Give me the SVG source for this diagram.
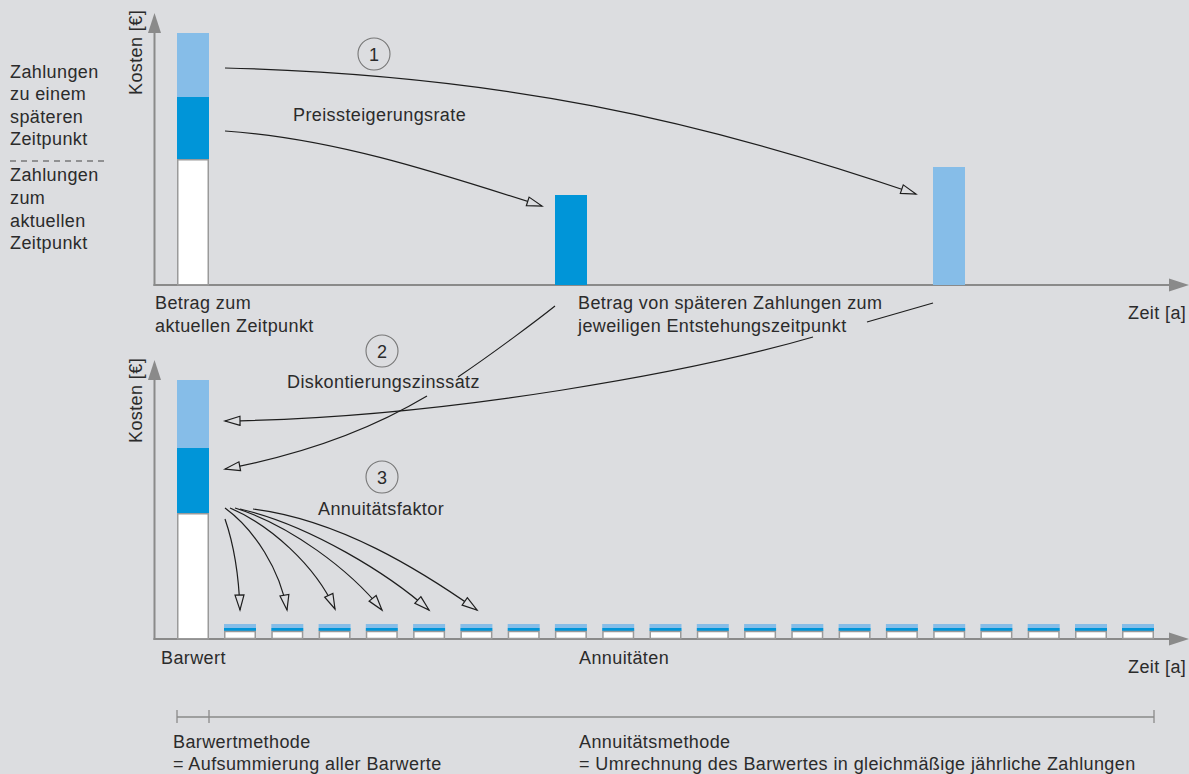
<svg xmlns="http://www.w3.org/2000/svg" width="1189" height="774" viewBox="0 0 1189 774">
<style>
  text { font-family: "Liberation Sans", Arial, sans-serif; font-size: 18px; fill: #2b2b2b; letter-spacing: 0.4px; }
  .axis { stroke: #8a8a8a; stroke-width: 2; fill: none; }
  .conn { stroke: #1e1e1e; stroke-width: 1.2; fill: none; }
  .arr { marker-end: url(#open); }
  .lb { fill: #86bde8; }
  .db { fill: #0095d8; }
  .wh { fill: #ffffff; stroke: #9a9a9a; stroke-width: 1.5; }
  .circ { fill: none; stroke: #777777; stroke-width: 1.1; }
  .num { text-anchor: middle; letter-spacing: 0; }
  .brk { stroke: #8a8a8a; stroke-width: 1.3; fill: none; }
</style>
<defs>
  <marker id="open" markerUnits="userSpaceOnUse" markerWidth="18" markerHeight="12" refX="15" refY="5" orient="auto" overflow="visible">
    <path d="M0,0.5 L15,5 L0,9.5 Z" fill="#dcdde0" stroke="#1e1e1e" stroke-width="1.2" stroke-linejoin="miter"/>
  </marker>
  <marker id="axh" markerUnits="userSpaceOnUse" markerWidth="22" markerHeight="14" refX="0" refY="6.5" orient="auto" overflow="visible">
    <path d="M0,0 L20,6.5 L0,13 Z" fill="#8a8a8a"/>
  </marker>
  <g id="ann">
    <rect x="0" y="0" width="32" height="4" class="lb"/>
    <rect x="0" y="4" width="32" height="3" class="db"/>
    <rect x="0.75" y="7.5" width="30.5" height="7" class="wh" stroke-width="1.3"/>
  </g>
</defs>
<rect x="0" y="0" width="1189" height="774" fill="#dcdde0"/>

<!-- left legend -->
<g id="legend">
  <text x="10" y="78">Zahlungen</text>
  <text x="10" y="100">zu einem</text>
  <text x="10" y="123">späteren</text>
  <text x="10" y="145">Zeitpunkt</text>
  <line x1="10" y1="161" x2="108" y2="161" stroke="#444" stroke-width="1" stroke-dasharray="6,5"/>
  <text x="10" y="181">Zahlungen</text>
  <text x="10" y="204">zum</text>
  <text x="10" y="227">aktuellen</text>
  <text x="10" y="249">Zeitpunkt</text>
</g>

<!-- top chart -->
<g id="top-axes">
  <path class="axis" d="M154.5,286 L154.5,33" marker-end="url(#axh)"/>
  <path class="axis" d="M153.5,285 L1169,285" marker-end="url(#axh)"/>
  <text transform="translate(142,95) rotate(-90)">Kosten [€]</text>
  <text x="1128" y="319">Zeit [a]</text>
</g>
<g id="bar-current">
  <rect x="177" y="33" width="32" height="64" class="lb"/>
  <rect x="177" y="97" width="32" height="62" class="db"/>
  <rect x="177.75" y="159.75" width="30.5" height="125" class="wh"/>
  <text x="155" y="309">Betrag zum</text>
  <text x="155" y="332">aktuellen Zeitpunkt</text>
</g>
<g id="bar-later-dark">
  <rect x="555" y="195" width="32" height="90" class="db"/>
</g>
<g id="bar-later-light">
  <rect x="933" y="167" width="32" height="118" class="lb"/>
</g>
<g id="label-later">
  <text x="578" y="309">Betrag von späteren Zahlungen zum</text>
  <text x="578" y="332">jeweiligen Entstehungszeitpunkt</text>
</g>
<g id="step1">
  <circle cx="374" cy="54" r="16" class="circ"/>
  <text x="374" y="60.5" class="num">1</text>
  <text x="293" y="121">Preissteigerungsrate</text>
</g>

<!-- bottom chart -->
<g id="bottom-axes">
  <path class="axis" d="M154.5,640 L154.5,380" marker-end="url(#axh)"/>
  <path class="axis" d="M153.5,639 L1169,639" marker-end="url(#axh)"/>
  <text transform="translate(142,443) rotate(-90)">Kosten [€]</text>
  <text x="1128" y="673">Zeit [a]</text>
</g>
<g id="bar-barwert">
  <rect x="177" y="380" width="32" height="68" class="lb"/>
  <rect x="177" y="448" width="32" height="65" class="db"/>
  <rect x="177.75" y="513.75" width="30.5" height="125" class="wh"/>
  <text x="161" y="664">Barwert</text>
</g>
<g id="step2">
  <circle cx="382" cy="351" r="16" class="circ"/>
  <text x="382" y="357.5" class="num">2</text>
  <text x="287" y="388">Diskontierungszinssatz</text>
</g>
<g id="step3">
  <circle cx="382" cy="477" r="16" class="circ"/>
  <text x="382" y="483.5" class="num">3</text>
  <text x="318" y="515">Annuitätsfaktor</text>
</g>
<g id="annuities">
  <use href="#ann" x="224" y="624"/>
  <use href="#ann" x="271.3" y="624"/>
  <use href="#ann" x="318.6" y="624"/>
  <use href="#ann" x="365.8" y="624"/>
  <use href="#ann" x="413.1" y="624"/>
  <use href="#ann" x="460.4" y="624"/>
  <use href="#ann" x="507.7" y="624"/>
  <use href="#ann" x="554.9" y="624"/>
  <use href="#ann" x="602.2" y="624"/>
  <use href="#ann" x="649.5" y="624"/>
  <use href="#ann" x="696.8" y="624"/>
  <use href="#ann" x="744.1" y="624"/>
  <use href="#ann" x="791.3" y="624"/>
  <use href="#ann" x="838.6" y="624"/>
  <use href="#ann" x="885.9" y="624"/>
  <use href="#ann" x="933.2" y="624"/>
  <use href="#ann" x="980.4" y="624"/>
  <use href="#ann" x="1027.7" y="624"/>
  <use href="#ann" x="1075" y="624"/>
  <use href="#ann" x="1122" y="624"/>
  <text x="579" y="664">Annuitäten</text>
</g>

<!-- method brackets -->
<g id="methods">
  <line class="brk" x1="177" y1="717" x2="1154" y2="717"/>
  <line class="brk" x1="177" y1="710" x2="177" y2="723"/>
  <line class="brk" x1="209" y1="710" x2="209" y2="723"/>
  <line class="brk" x1="1154" y1="710" x2="1154" y2="723"/>
  <text x="173" y="748">Barwertmethode</text>
  <text x="173" y="770">= Aufsummierung aller Barwerte</text>
  <text x="579" y="748">Annuitätsmethode</text>
  <text x="579" y="770">= Umrechnung des Barwertes in gleichmäßige jährliche Zahlungen</text>
</g>

<!-- connectors -->
<g id="connectors">
  <path class="conn arr" d="M225,68 C500,75 700,120 916,194"/>
  <path class="conn arr" d="M225,131 C330,138 430,170 542,206"/>
  <path class="conn" d="M555,306 C540,318 495,352 458,377"/>
  <path class="conn arr" d="M427,396 C370,430 300,455 225,469"/>
  <path class="conn" d="M933,303 L867,322"/>
  <path class="conn arr" d="M813,337 C700,370 450,418 225,421"/>
  <path class="conn arr" d="M225,519 C234,545 239,580 240,610"/>
  <path class="conn arr" d="M225,508 C255,530 280,570 287,610"/>
  <path class="conn arr" d="M230,508 C270,525 315,565 335,609"/>
  <path class="conn arr" d="M235,508 C290,525 350,570 382,610"/>
  <path class="conn arr" d="M240,509 C310,525 390,575 429,610"/>
  <path class="conn arr" d="M253,509 C340,520 420,570 477,610"/>
</g>
</svg>
